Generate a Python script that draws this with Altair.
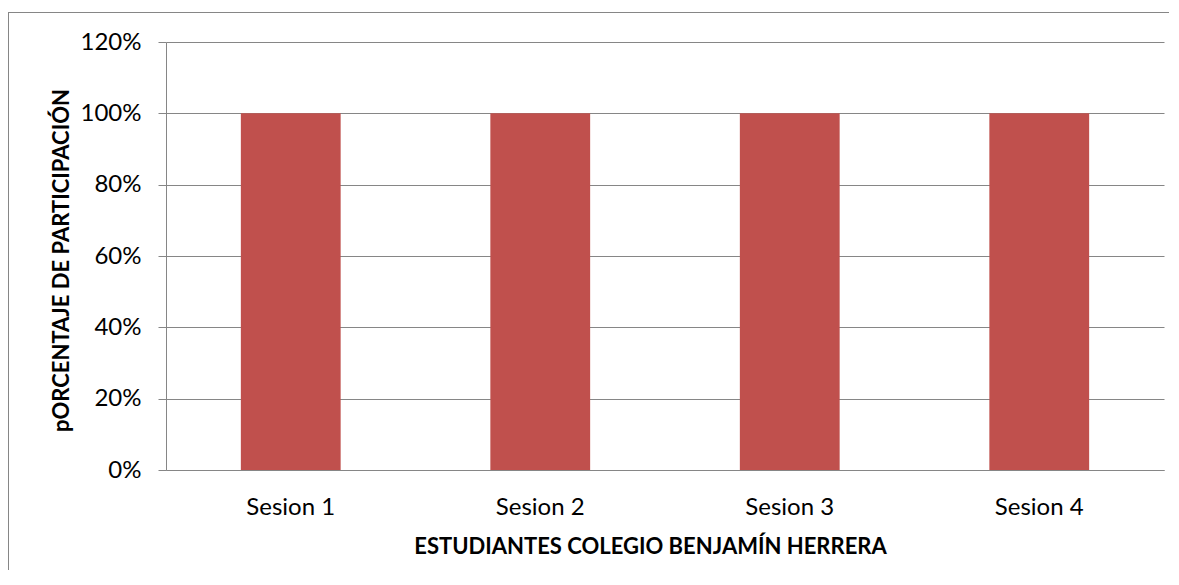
import altair as alt
import pandas as pd

sessions = ["Sesion 1", "Sesion 2", "Sesion 3", "Sesion 4"]
participation = [1.0, 1.0, 1.0, 1.0]

df = pd.DataFrame({"sesion": sessions, "valor": participation})

GRAY = "#868686"
FONT = "Lato"

bars = alt.Chart(df).mark_bar(color="#C0504D").encode(
    x=alt.X(
        "sesion:N",
        sort=sessions,
        scale=alt.Scale(paddingInner=0.6, paddingOuter=0.3),
        axis=alt.Axis(
            title="ESTUDIANTES COLEGIO BENJAMÍN HERRERA",
            labelAngle=0,
            ticks=False,
            tickSize=0,
            labelPadding=44,
            labelBaseline="alphabetic",
            labelFont=FONT,
            labelFontSize=24,
            labelColor="#000000",
            domainColor=GRAY,
            domainWidth=1,
            titleFont=FONT,
            titleFontSize=22,
            titleFontWeight="bold",
            titleColor="#000000",
            titleX=484,
            titleY=83,
            titleAlign="center",
            titleBaseline="alphabetic",
            grid=False,
        ),
    ),
    y=alt.Y(
        "valor:Q",
        scale=alt.Scale(domain=[0, 1.2], nice=False),
        axis=alt.Axis(
            title="pORCENTAJE DE PARTICIPACIÓN",
            format=".0%",
            values=[0, 0.2, 0.4, 0.6, 0.8, 1.0, 1.2],
            tickSize=8,
            tickColor=GRAY,
            labelPadding=17,
            labelFont=FONT,
            labelFontSize=24,
            labelColor="#000000",
            domainColor=GRAY,
            grid=True,
            gridColor=GRAY,
            gridWidth=1,
            titleFont=FONT,
            titleFontSize=22,
            titleFontWeight="bold",
            titleColor="#000000",
            titleAngle=-90,
            titleX=-98,
            titleY=218,
            titleAlign="center",
            titleBaseline="alphabetic",
        ),
    ),
)

border_left = alt.Chart(df).mark_rule(color=GRAY, strokeWidth=1).encode(
    x=alt.value(-157.5), y=alt.value(-30), y2=alt.value(600)
)
border_top = alt.Chart(df).mark_rule(color=GRAY, strokeWidth=1).encode(
    x=alt.value(-158), x2=alt.value(1100), y=alt.value(-29.5)
)

chart = (
    alt.layer(bars, border_left, border_top)
    .properties(
        width=998,
        height=428,
        autosize=alt.AutoSizeParams(type="none"),
        padding={"left": 158, "top": 34, "right": 5, "bottom": 100},
        background="#ffffff",
    )
    .configure_view(stroke=None)
)

chart.save("out.html", embed_options={"renderer": "svg", "actions": False})
